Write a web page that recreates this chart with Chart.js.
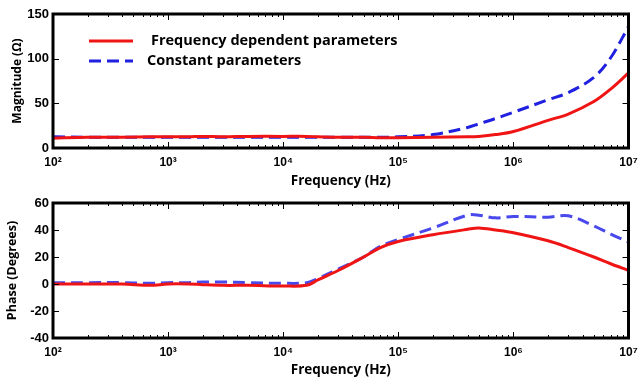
<!DOCTYPE html>
<html>
<head>
<meta charset="utf-8">
<script src="https://cdn.jsdelivr.net/npm/chart.js@4.4.1/dist/chart.umd.min.js"></script>
<style>
  html, body { margin: 0; padding: 0; background: #fff; }
  #wrap { width: 640px; height: 382px; position: relative; }
  .box { position: absolute; left: 0; width: 640px; }
</style>
</head>
<body>
<div id="wrap">
  <div class="box" style="top:0;height:190px"><canvas id="magChart"></canvas></div>
  <div class="box" style="top:190px;height:192px"><canvas id="phaseChart"></canvas></div>
</div>
<script>
// Dados
const freqs = [100, 200, 400, 700, 1000, 1500, 2000, 3000, 5000, 1e4, 1.6e4, 2e4, 3e4, 5e4, 7e4,
               1e5, 2e5, 4e5, 5e5, 7e5, 1e6, 2e6, 3e6, 5e6, 7e6, 1e7];
const magFreqDep = [11, 12, 12, 12.5, 12.5, 12.5, 13, 12.5, 13, 13, 13, 12.5, 12, 12, 11.5,
                    11.5, 12, 12.5, 13, 15, 18.5, 31, 38, 52, 66, 84];
const magConst = [12.5, 12, 12, 12, 12, 12, 12, 12, 12, 12, 12, 12, 12, 12, 12,
                  12.5, 15, 23, 27, 33, 40, 54, 62, 79, 101, 136];
const phaseFreqDep = [0, 0, 0, -1, 0, 0, -0.5, -1, -1, -1.5, -1, 3, 10, 20, 27,
                      31.5, 36.5, 40.5, 41.5, 40, 38, 32, 27, 20, 15, 10];
const phaseConst = [1, 1, 1, 0.5, 1, 1, 1.5, 1.5, 1, 0.5, 1, 4, 11, 20, 28,
                    33, 41.5, 51, 51, 49, 50, 49.5, 50.5, 43, 37, 31];
const decadeTicks = [1e2, 1e3, 1e4, 1e5, 1e6, 1e7];
const magTicks = [0, 50, 100, 150];
const phaseTicks = [-40, -20, 0, 20, 40, 60];
const seriesNames = ['Frequency dependent parameters', 'Constant parameters'];

const sup = '⁰¹²³⁴⁵⁶⁷⁸⁹';
const expLabel = v => '10' + String(Math.round(Math.log10(v))).split('').map(d => sup[d]).join('');
const pts = arr => freqs.map((f, i) => ({ x: f, y: arr[i] }));

// moldura grossa + marcas para dentro
const frameTicks = {
  id: 'frameTicks',
  afterDatasetsDraw(chart) {
    const { ctx, chartArea: a, scales: { x, y } } = chart;
    ctx.save();
    ctx.strokeStyle = '#000';
    ctx.lineWidth = 1;
    ctx.beginPath();
    for (let e = 2; e < 7; e++) {
      for (let k = 1; k < 10; k++) {
        const px = Math.round(x.getPixelForValue(k * 10 ** e)) + 0.5;
        const len = k === 1 ? 6 : 3;
        ctx.moveTo(px, a.bottom); ctx.lineTo(px, a.bottom - len);
        ctx.moveTo(px, a.top); ctx.lineTo(px, a.top + len);
      }
    }
    y.ticks.forEach(t => {
      const py = Math.round(y.getPixelForValue(t.value)) + 0.5;
      ctx.moveTo(a.left, py); ctx.lineTo(a.left + 6, py);
      ctx.moveTo(a.right, py); ctx.lineTo(a.right - 6, py);
    });
    ctx.stroke();
    ctx.lineWidth = 3;
    ctx.strokeRect(a.left, a.top, a.width, a.height);
    ctx.restore();
  }
};

// legenda dentro da área do gráfico
const insideLegend = {
  id: 'insideLegend',
  afterDraw(chart) {
    const { ctx, chartArea: a } = chart;
    ctx.save();
    ctx.font = 'bold 14.5px "Open Sans"';
    ctx.fillStyle = '#000';
    ctx.textBaseline = 'middle';
    chart.data.datasets.forEach((ds, i) => {
      const y = a.top + 27 + i * 20;
      ctx.strokeStyle = ds.borderColor;
      ctx.lineWidth = ds.borderWidth;
      ctx.setLineDash(ds.borderDash || []);
      ctx.beginPath();
      ctx.moveTo(a.left + 36, y);
      ctx.lineTo(a.left + 80, y);
      ctx.stroke();
      ctx.fillText(ds.label, a.left + (i === 0 ? 98 : 94), y);
    });
    ctx.restore();
  }
};

function makeChart(id, dataA, dataB, blue, yTicks, yTitle, opts) {
  return new Chart(document.getElementById(id), {
    type: 'line',
    data: {
      datasets: [
        { label: seriesNames[0], data: pts(dataA), borderColor: '#f01515', borderWidth: 3,
          pointRadius: 0, tension: 0.35, fill: false },
        { label: seriesNames[1], data: pts(dataB), borderColor: blue, borderWidth: 3,
          borderDash: [12, 6], pointRadius: 0, tension: 0.35, fill: false }
      ]
    },
    options: {
      responsive: true,
      maintainAspectRatio: false,
      animation: false,
      layout: { padding: { top: opts.top, right: 11.5, left: 0, bottom: 0 } },
      plugins: { legend: { display: false }, tooltip: { enabled: false } },
      scales: {
        x: {
          type: 'logarithmic', min: 100, max: 1e7,
          grid: { display: false, drawTicks: false },
          border: { display: false },
          afterBuildTicks: s => { s.ticks = decadeTicks.map(v => ({ value: v })); },
          afterFit: s => { s.height = opts.xh; s.paddingRight = 0; s.paddingLeft = 0; },
          ticks: {
            autoSkip: false, maxRotation: 0, padding: 7, color: '#000',
            font: { family: 'Arial', weight: 'bold', size: 12 },
            callback: v => expLabel(v)
          },
          title: {
            display: true, text: 'Frequency (Hz)', color: '#000',
            font: { family: '"Open Sans"', weight: 'bold', size: 13.5 },
            padding: { top: opts.xtp, bottom: opts.xtp }
          }
        },
        y: {
          min: yTicks[0], max: yTicks[yTicks.length - 1],
          grid: { display: false, drawTicks: false },
          border: { display: false },
          afterBuildTicks: s => { s.ticks = yTicks.map(v => ({ value: v })); },
          afterFit: s => { s.width = 53; s.paddingTop = 0; s.paddingBottom = 0; },
          ticks: {
            padding: 4, color: '#000',
            font: { family: 'Arial', weight: 'bold', size: 13 }
          },
          title: {
            display: true, text: yTitle, color: '#000',
            font: { family: '"Open Sans"', weight: 'bold', size: opts.yts },
            padding: { top: opts.ytp, bottom: opts.ytp }
          }
        }
      }
    },
    plugins: opts.legend ? [frameTicks, insideLegend] : [frameTicks]
  });
}

makeChart('magChart', magFreqDep, magConst, '#2020e0', magTicks, 'Magnitude (Ω)',
  { top: 14, xh: 42, xtp: 0.5, yts: 12, ytp: 10.5, legend: true });
makeChart('phaseChart', phaseFreqDep, phaseConst, '#4848ec', phaseTicks, 'Phase (Degrees)',
  { top: 13, xh: 44, xtp: 4, yts: 12.5, ytp: 4.6, legend: false });
</script>
</body>
</html>
